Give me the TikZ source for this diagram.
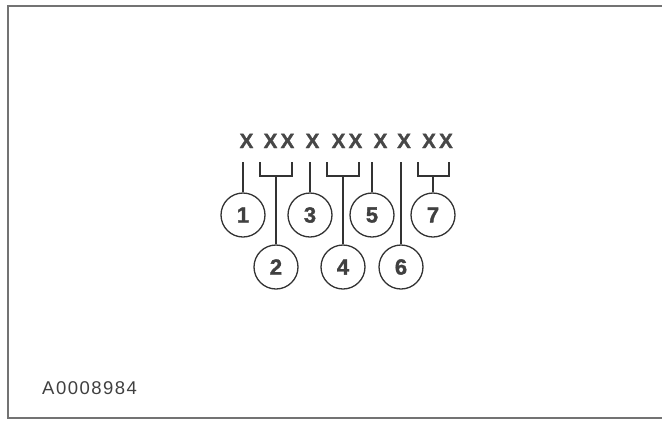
\documentclass[tikz,border=0pt]{standalone}
\usepackage{fontspec}
\setmainfont{Liberation Sans}[BoldFont={Liberation Sans Bold}]
\newfontfamily\codefont{Liberation Sans Bold}[LetterSpace=16, FakeBold=1.6]
\newfontfamily\numfont{Liberation Sans Bold}[FakeBold=1.6]
\newfontfamily\refnumfont{Liberation Sans}[LetterSpace=8]
\usetikzlibrary{positioning, calc}

\begin{document}
\begin{tikzpicture}[x=1pt, y=-1pt,
        code/.style={inner sep=0pt, anchor=base, text=black!72, font=\codefont\fontsize{20.5}{24}\selectfont},
        partnum/.style={circle, draw=black!80, line width=1.3pt, minimum size=44pt, inner sep=0pt, text=black!75, font=\numfont\fontsize{22}{26}\selectfont},
        lead/.style={draw=black!80, line width=1.3pt}]

      \useasboundingbox (0,0) rectangle (662,421);

      % 1. Frame (open on the right)
      \draw[black!55, line width=1.2pt] (662,6) -- (8,6) -- (8,418) -- (662,418);

      % 2. Code groups
      \node [code] (x1) at (246.5, 148) {X};
      \node [code] (x2) at (279, 148) {XX};
      \node [code] (x3) at (312.5, 148) {X};
      \node [code] (x4) at (347, 148) {XX};
      \node [code] (x5) at (380.5, 148) {X};
      \node [code] (x6) at (404, 148) {X};
      \node [code] (x7) at (437.5, 148) {XX};

      % 3. Part numbers
      \node [partnum] (c1) at (243, 215) {1};
      \node [partnum] (c3) at (310, 215) {3};
      \node [partnum] (c5) at (372, 215) {5};
      \node [partnum] (c7) at (433, 215) {7};

      \node [partnum] (c2) at (276, 267) {2};
      \node [partnum] (c4) at (343, 267) {4};
      \node [partnum] (c6) at (401, 267) {6};

      % 4. Lead lines and brackets
      \coordinate (t1) at (243, 162);
      \coordinate (t3) at (310, 162);
      \coordinate (t5) at (372, 162);
      \coordinate (t6) at (401, 162);

      \coordinate (b2l) at (260, 162);
      \coordinate (b2r) at (292, 162);
      \coordinate (m2) at (276, 176);
      \coordinate (b4l) at (327, 162);
      \coordinate (b4r) at (359, 162);
      \coordinate (m4) at (343, 176);
      \coordinate (b7l) at (418, 162);
      \coordinate (b7r) at (449, 162);
      \coordinate (m7) at (433, 176);

      \draw [lead] (t1) -- (c1);
      \draw [lead] (t3) -- (c3);
      \draw [lead] (t5) -- (c5);
      \draw [lead] (t6) -- (c6);

      \draw [lead] (b2l) |- (m2) -| (b2r);
      \draw [lead] (m2) -- (c2);
      \draw [lead] (b4l) |- (m4) -| (b4r);
      \draw [lead] (m4) -- (c4);
      \draw [lead] (b7l) |- (m7) -| (b7r);
      \draw [lead] (m7) -- (c7);

      % 5. Reference number
      \node [anchor=base west, inner sep=0pt, text=black!75, font=\refnumfont\fontsize{18.5}{22}\selectfont] (refno) at (42, 394) {A0008984};
    \end{tikzpicture}
\end{document}
